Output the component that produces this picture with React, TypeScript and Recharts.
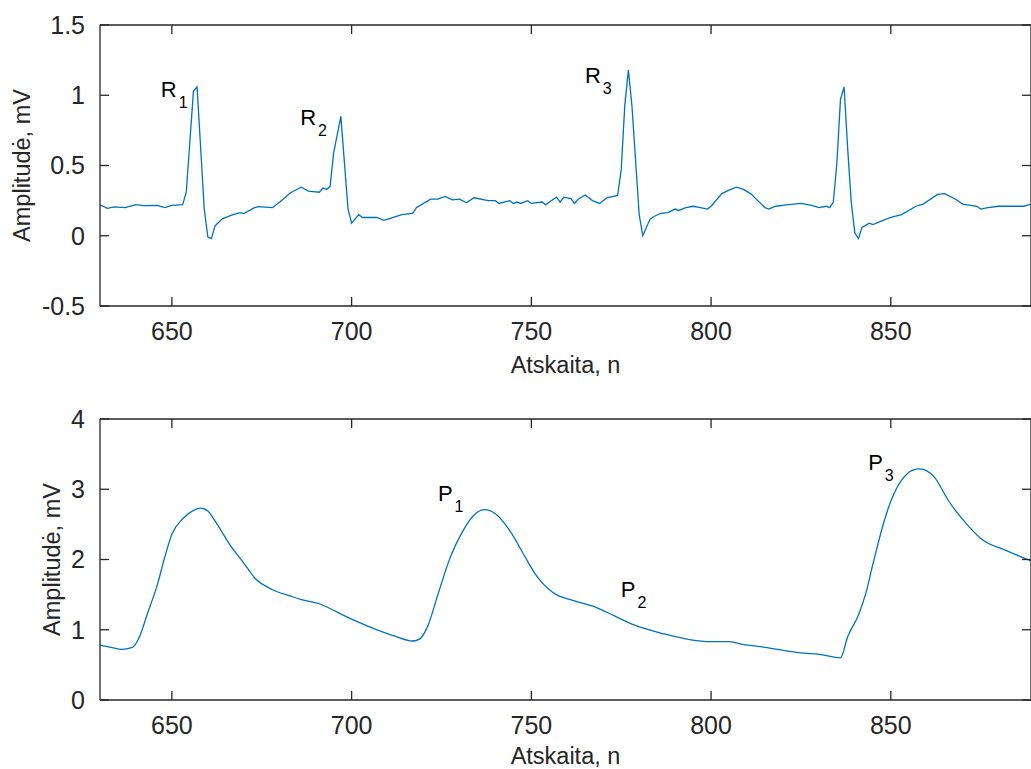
import React from 'react';
import { LineChart, Line, XAxis, YAxis, ReferenceDot } from 'recharts';

// shared axis ticks
const xTicks = [650, 700, 750, 800, 850];
const ecgTicks = [-0.5, 0, 0.5, 1, 1.5];
const ppgTicks = [0, 1, 2, 3, 4];

// top trace: ECG, sample index -> amplitude (mV)
const ecgN = [
  630, 632, 634, 637, 640, 642, 646, 648, 650, 653, 654, 656, 657, 659, 660, 661, 662, 664, 667, 669,
  670, 673, 674, 678, 680, 683, 686, 688, 691, 692, 693, 694, 695, 697, 699, 700, 702, 703, 707, 709,
  711, 712, 714, 717, 718, 720, 722, 724, 726, 728, 730, 732, 734, 738, 740, 741, 744, 745, 746, 747,
  749, 750, 753, 754, 755, 757, 758, 759, 761, 762, 763, 765, 767, 769, 771, 774, 775, 776, 777, 778,
  780, 781, 783, 784, 786, 788, 790, 791, 793, 795, 797, 799, 800, 803, 805, 807, 809, 811, 813, 815,
  816, 818, 821, 823, 825, 828, 830, 832, 833, 834, 835, 836, 837, 838, 839, 840, 841, 842, 844, 845,
  847, 850, 853, 857, 859, 863, 865, 868, 870, 874, 875, 877, 880, 887, 889,
];
const ecgAmp = [
  0.22, 0.195, 0.205, 0.2, 0.222, 0.215, 0.216, 0.2, 0.216, 0.222, 0.31, 1.03, 1.06, 0.19, -0.01, -0.02, 0.07, 0.12, 0.15, 0.165,
  0.158, 0.2, 0.207, 0.2, 0.24, 0.306, 0.346, 0.318, 0.31, 0.34, 0.33, 0.35, 0.59, 0.85, 0.19, 0.09, 0.15, 0.13, 0.13, 0.11,
  0.125, 0.135, 0.15, 0.16, 0.2, 0.23, 0.26, 0.26, 0.28, 0.255, 0.26, 0.235, 0.27, 0.25, 0.25, 0.23, 0.25, 0.23, 0.24, 0.23,
  0.25, 0.23, 0.24, 0.22, 0.24, 0.275, 0.24, 0.275, 0.265, 0.23, 0.26, 0.29, 0.25, 0.23, 0.27, 0.287, 0.47, 0.93, 1.18, 0.92,
  0.15, 0.0, 0.117, 0.135, 0.16, 0.165, 0.19, 0.18, 0.2, 0.21, 0.2, 0.19, 0.21, 0.3, 0.325, 0.346, 0.33, 0.3, 0.25, 0.2,
  0.19, 0.21, 0.22, 0.225, 0.23, 0.216, 0.2, 0.21, 0.2, 0.24, 0.52, 0.97, 1.06, 0.62, 0.235, 0.02, -0.02, 0.06, 0.09, 0.08,
  0.1, 0.13, 0.15, 0.21, 0.225, 0.294, 0.3, 0.26, 0.225, 0.21, 0.19, 0.2, 0.21, 0.21, 0.225,
];

// bottom trace: pulse wave
const ppgN = [
  630, 633, 636, 639, 641, 643, 646, 648, 650, 653, 656, 658, 660, 662, 666, 670, 673, 678, 683, 686,
  691, 696, 700, 706, 712, 717, 719, 721, 724, 727, 731, 734, 737, 740, 744, 748, 751, 756, 762, 768,
  773, 778, 787, 794, 800, 805, 808, 815, 821, 825, 830, 836, 838, 841, 843, 845, 848, 850, 853, 856,
  858, 862, 866, 871, 875, 882, 889,
];
const ppgAmp = [
  0.78, 0.75, 0.72, 0.75, 0.9, 1.2, 1.65, 2.03, 2.36, 2.58, 2.7, 2.73, 2.69, 2.55, 2.22, 1.95, 1.74, 1.57, 1.48, 1.43,
  1.37, 1.25, 1.15, 1.02, 0.91, 0.84, 0.87, 1.03, 1.5, 1.97, 2.41, 2.63, 2.71, 2.65, 2.41, 2.06, 1.8, 1.53, 1.41, 1.32,
  1.2, 1.08, 0.94, 0.86, 0.83, 0.83, 0.8, 0.75, 0.7, 0.67, 0.65, 0.6, 0.9, 1.21, 1.51, 1.93, 2.52, 2.83, 3.13, 3.27,
  3.29, 3.18, 2.84, 2.51, 2.3, 2.13, 1.98,
];

// peak labels, anchored at text baseline-left (data units)
const rLabels = [
  { n: 646.9, v: 0.99, sub: '1' },
  { n: 685.7, v: 0.786, sub: '2' },
  { n: 764.9, v: 1.09, sub: '3' },
];
const pLabels = [
  { n: 724.0, v: 2.83, sub: '1' },
  { n: 774.9, v: 1.46, sub: '2' },
  { n: 843.7, v: 3.28, sub: '3' },
];

const ecgData = ecgN.map((n, i) => ({ n, v: ecgAmp[i] }));
const ppgData = ppgN.map((n, i) => ({ n, v: ppgAmp[i] }));

const INK = '#262626';
const BLUE = '#0072BD';
const tickFont = { fontSize: 25, fill: INK };
const axisStroke = { stroke: INK, strokeWidth: 1.3 };

const YTitle = ({ viewBox, left }: any) => {
  const cy = viewBox ? viewBox.y + viewBox.height / 2 : 0;
  return (
    <text
      x={left}
      y={cy}
      transform={`rotate(-90, ${left}, ${cy})`}
      textAnchor="middle"
      dominantBaseline="central"
      fontSize={23.5}
      fill={INK}
    >
      Amplitudė, mV
    </text>
  );
};

const PeakLabel = ({ cx, cy, letter, sub }: any) => (
  <text x={cx} y={cy} fontSize={22} fill="#000">
    {letter}
    <tspan dx={2} dy={11} fontSize={16}>
      {sub}
    </tspan>
  </text>
);

function Panel({ data, yDomain, yTicks, labels, letter, height, top, xAxisHeight, titleOffset, yTitleX, smooth }: any) {
  return (
    <LineChart width={1040} height={height} data={data} margin={{ top, right: 8, bottom: 0, left: 0 }}>
      <XAxis
        dataKey="n"
        type="number"
        domain={[630, 889]}
        allowDataOverflow
        ticks={xTicks}
        interval={0}
        height={xAxisHeight}
        tickSize={-9}
        tickMargin={25}
        tick={tickFont}
        axisLine={axisStroke}
        tickLine={axisStroke}
        label={{ value: 'Atskaita, n', position: 'insideBottom', offset: titleOffset, fontSize: 23.5, fill: INK }}
      />
      {/* top/right axes only close the box */}
      <XAxis
        xAxisId="top"
        orientation="top"
        dataKey="n"
        type="number"
        domain={[630, 889]}
        allowDataOverflow
        ticks={xTicks}
        interval={0}
        height={1}
        tickSize={-9}
        tickFormatter={() => ''}
        axisLine={axisStroke}
        tickLine={axisStroke}
      />
      <YAxis
        type="number"
        domain={yDomain}
        allowDataOverflow
        ticks={yTicks}
        interval={0}
        width={100}
        tickSize={-9}
        tickMargin={24}
        tick={tickFont}
        axisLine={axisStroke}
        tickLine={axisStroke}
        label={<YTitle left={yTitleX} />}
      />
      <YAxis
        yAxisId="right"
        orientation="right"
        type="number"
        domain={yDomain}
        allowDataOverflow
        ticks={yTicks}
        interval={0}
        width={1}
        tickSize={-9}
        tickFormatter={() => ''}
        axisLine={axisStroke}
        tickLine={axisStroke}
      />
      <Line
        xAxisId="top"
        yAxisId="right"
        dataKey="v"
        stroke="none"
        dot={false}
        legendType="none"
        isAnimationActive={false}
      />
      <Line
        dataKey="v"
        type={smooth ? 'monotone' : 'linear'}
        stroke={BLUE}
        strokeWidth={1.3}
        dot={false}
        isAnimationActive={false}
      />
      {labels.map((a: any) => (
        <ReferenceDot
          key={a.sub}
          x={a.n}
          y={a.v}
          r={0}
          shape={(p: any) => <PeakLabel cx={p.cx} cy={p.cy} letter={letter} sub={a.sub} />}
        />
      ))}
    </LineChart>
  );
}

export default function App() {
  return (
    <div
      style={{
        position: 'absolute',
        left: 0,
        top: 0,
        width: 1031,
        height: 769,
        overflow: 'hidden',
        background: '#fff',
        fontFamily: '"Liberation Sans", Arial, Helvetica, sans-serif',
      }}
    >
      <Panel
        data={ecgData}
        yDomain={[-0.5, 1.5]}
        yTicks={ecgTicks}
        labels={rLabels}
        letter="R"
        height={385}
        top={24}
        xAxisHeight={79}
        titleOffset={12}
        yTitleX={22}
      />
      <Panel
        data={ppgData}
        yDomain={[0, 4]}
        yTicks={ppgTicks}
        labels={pLabels}
        letter="P"
        height={384}
        top={33}
        xAxisHeight={69}
        titleOffset={5}
        yTitleX={52}
        smooth
      />
    </div>
  );
}
